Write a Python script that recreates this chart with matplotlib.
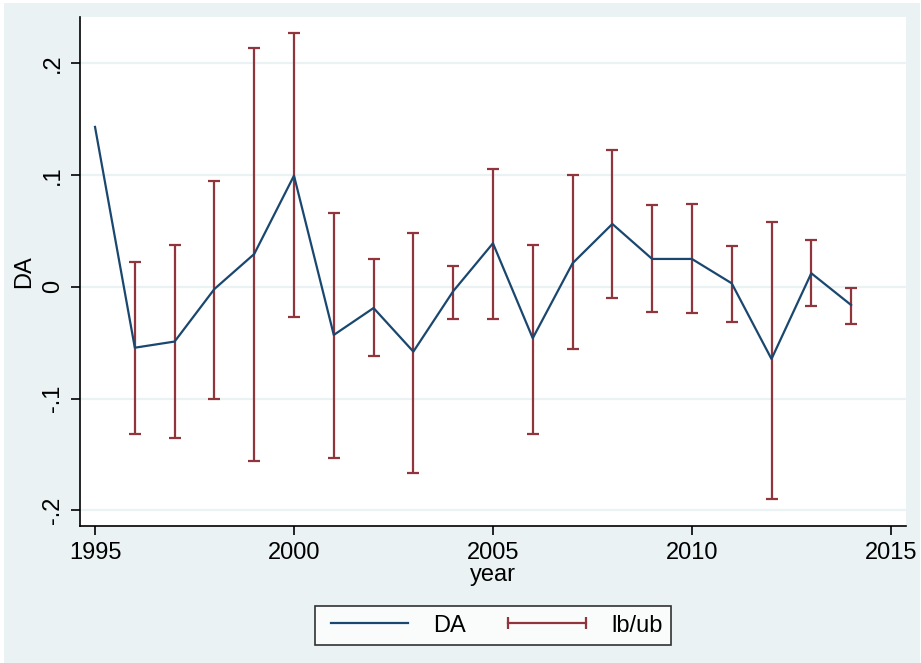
import numpy as np
import matplotlib
matplotlib.use("Agg")
import matplotlib.pyplot as plt
from matplotlib.lines import Line2D
from matplotlib.patches import Rectangle

plt.rcParams['font.family'] = ['Liberation Sans', 'DejaVu Sans']

# yearly discretionary accruals and confidence bounds
years = np.arange(1995, 2015)
da = [0.143, -0.0545, -0.049, -0.002, 0.0293, 0.0994, -0.0431, -0.019, -0.058, -0.004,
      0.0389, -0.046, 0.021, 0.0562, 0.0249, 0.0249, 0.0031, -0.0646, 0.0121, -0.0163]
ci_years = np.arange(1996, 2015)
ub = [0.0225, 0.0374, 0.0946, 0.2133, 0.2273, 0.0657, 0.0246, 0.0479, 0.0189, 0.1051,
      0.0374, 0.1, 0.1226, 0.0729, 0.0741, 0.0365, 0.0577, 0.0419, -0.0013]
lb = [-0.1317, -0.1355, -0.1004, -0.1558, -0.0267, -0.1534, -0.0619, -0.1663, -0.029, -0.0288,
      -0.132, -0.0559, -0.0097, -0.0223, -0.0237, -0.0315, -0.190, -0.0172, -0.0336]

yticks = [-0.2, -0.1, 0, 0.1, 0.2]
ytick_labels = ['-.2', '-.1', '0', '.1', '.2']
xticks = [1995, 2000, 2005, 2010, 2015]

navy = '#1A476F'
maroon = '#90353B'
bg = '#EAF2F3'
fs = 17

W, H = 921, 663
fig = plt.figure(figsize=(W / 100, H / 100), dpi=100, facecolor='white')
fig.patches.append(Rectangle((4 / W, 0), (W - 5) / W, (H - 3) / H,
                             transform=fig.transFigure, facecolor=bg,
                             edgecolor='none', zorder=-10))

ax = fig.add_axes([80.3 / W, (H - 526) / H, (906 - 80.3) / W, (526 - 16.7) / H])
ax.set_facecolor('white')

lb_arr = np.array(lb)
ub_arr = np.array(ub)
mid = (lb_arr + ub_arr) / 2
half = (ub_arr - lb_arr) / 2
ax.errorbar(ci_years, mid, yerr=half, fmt='none', ecolor=maroon,
            elinewidth=1.6, capsize=4.3, capthick=1.6, zorder=2)
ax.plot(years, da, color=navy, lw=1.6, zorder=3)

ax.set_xlim(1994.63, 2015.38)
ax.set_ylim(-0.214, 0.2416)
ax.set_yticks(yticks)
ax.set_yticklabels(ytick_labels, rotation=90, va='center')
ax.set_xticks(xticks)
ax.grid(axis='y', color=bg, lw=1.6)
ax.set_axisbelow(True)

for s in ['top', 'right']:
    ax.spines[s].set_visible(False)
for s in ['left', 'bottom']:
    ax.spines[s].set_linewidth(1.2)
    ax.spines[s].set_color('black')
ax.tick_params(axis='both', labelsize=fs, length=6.5, width=1.2, pad=5)

ax.set_xlabel('year', fontsize=fs, labelpad=0)
ax.set_ylabel('DA', fontsize=fs, labelpad=5)

h_da = Line2D([], [], color=navy, lw=1.6)
h_ci = Line2D([], [], color=maroon, lw=1.6, marker='|', markersize=9, markeredgewidth=1.6)
leg = fig.legend([h_da, h_ci], ['DA', 'lb/ub'], loc='center',
                 bbox_to_anchor=(493 / W, 1 - 625.5 / H), ncol=2, numpoints=2,
                 fontsize=fs, frameon=True, fancybox=False, handlelength=3.9,
                 handletextpad=0.75, columnspacing=1.5, borderpad=0.35)
leg.get_frame().set_edgecolor('black')
leg.get_frame().set_linewidth(1.2)
leg.get_frame().set_facecolor('white')

fig.savefig('out.png', dpi=100, facecolor=fig.get_facecolor())
